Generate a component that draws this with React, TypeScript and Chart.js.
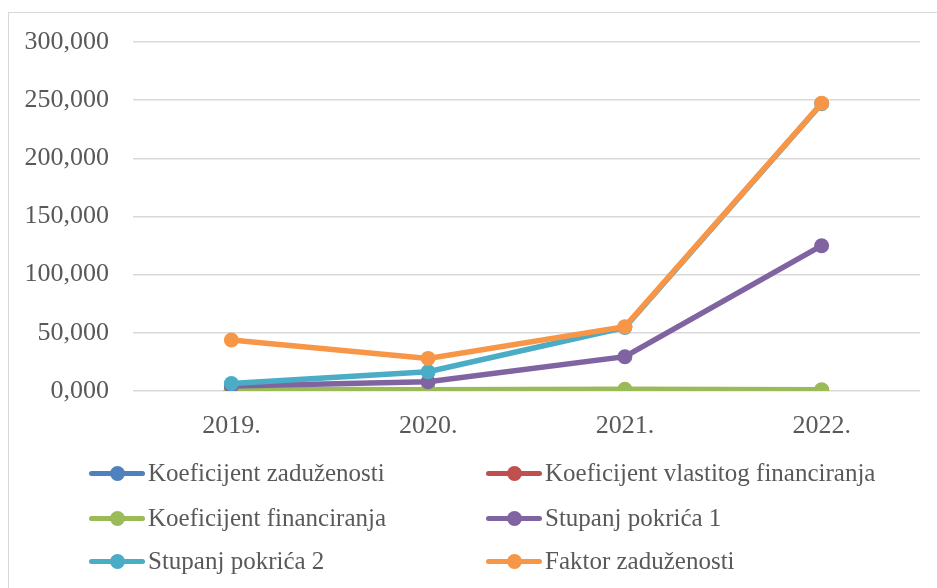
import React, { useEffect, useRef } from "react";
import { Chart, registerables } from "chart.js";

Chart.register(...registerables);

const categories = ["2019.", "2020.", "2021.", "2022."];
const seriesNames = [
  "Koeficijent zaduženosti",
  "Koeficijent vlastitog financiranja",
  "Koeficijent financiranja",
  "Stupanj pokrića 1",
  "Stupanj pokrića 2",
  "Faktor zaduženosti",
];
const koefZaduzenosti = [0.6, 0.5, 0.5, 0.5];
const koefVlastitog = [0.4, 0.3, 0.4, 0.4];
const koefFinanciranja = [1.5, 1.0, 1.4, 1.0];
const stupanjPokrica1 = [4.3, 8.0, 29.5, 124.9];
const stupanjPokrica2 = [6.5, 16.6, 54.6, 247.0];
const faktorZaduzenosti = [43.8, 28.0, 55.3, 247.3];
const seriesValues = [
  koefZaduzenosti,
  koefVlastitog,
  koefFinanciranja,
  stupanjPokrica1,
  stupanjPokrica2,
  faktorZaduzenosti,
];
const colors = ["#4F81BD", "#C0504D", "#9BBB59", "#8064A2", "#4BACC6", "#F79646"];
const yMin = 0;
const yMax = 300;
const yStep = 50;

const FONT = "'Liberation Serif', 'DejaVu Serif', serif";
const TEXT_COLOR = "#595959";

export default function App() {
  const ref = useRef<HTMLCanvasElement | null>(null);

  useEffect(() => {
    if (!ref.current) return;
    const chart = new Chart(ref.current, {
      type: "line",
      data: {
        labels: categories,
        datasets: seriesNames.map((name, i) => ({
          label: name,
          data: seriesValues[i],
          borderColor: colors[i],
          backgroundColor: colors[i],
          pointBackgroundColor: colors[i],
          pointBorderColor: colors[i],
          borderWidth: 5.5,
          pointRadius: 7.5,
          pointBorderWidth: 0,
          tension: 0,
          order: seriesNames.length - 1 - i,
        })),
      },
      options: {
        responsive: false,
        animation: false,
        layout: { padding: { top: 42, right: 17, bottom: 148, left: 0 } },
        plugins: { legend: { display: false }, tooltip: { enabled: false } },
        scales: {
          x: {
            offset: true,
            grid: { display: false },
            border: { display: false },
            ticks: {
              color: TEXT_COLOR,
              font: { family: FONT, size: 26 },
              padding: 12,
            },
            afterFit: (s: any) => {
              s.height = 49;
            },
          },
          y: {
            min: yMin,
            max: yMax,
            grid: { color: "#d9d9d9", lineWidth: 1.5, drawTicks: false },
            border: { display: false },
            ticks: {
              stepSize: yStep,
              color: TEXT_COLOR,
              font: { family: FONT, size: 26 },
              padding: 24,
              callback: (v: any) => Number(v).toFixed(3).replace(".", ","),
            },
            afterFit: (s: any) => {
              s.width = 133;
            },
          },
        },
      },
    });
    return () => chart.destroy();
  }, []);

  const legendRows = [
    [0, 1],
    [2, 3],
    [4, 5],
  ];
  const rowY = [473, 518, 561];
  const colX = [89, 486];

  return (
    <div
      style={{
        position: "fixed",
        left: 0,
        top: 0,
        width: 937,
        height: 588,
        background: "#fff",
        overflow: "hidden",
      }}
    >
      <div
        style={{
          position: "absolute",
          left: 8,
          top: 12,
          width: 960,
          height: 620,
          border: "1.5px solid #d9d9d9",
          boxSizing: "border-box",
        }}
      />
      <canvas
        ref={ref}
        width={937}
        height={588}
        style={{ position: "absolute", left: 0, top: 0, width: 937, height: 588 }}
      />
      {legendRows.map((row, r) =>
        row.map((idx, c) => (
          <div
            key={idx}
            style={{
              position: "absolute",
              left: colX[c],
              top: rowY[r] - 16,
              height: 32,
              display: "flex",
              alignItems: "center",
              fontFamily: FONT,
              fontSize: 25,
              color: TEXT_COLOR,
              whiteSpace: "nowrap",
            }}
          >
            <div style={{ position: "relative", width: 56, height: 15, marginRight: 3 }}>
              <div
                style={{
                  position: "absolute",
                  left: 0,
                  top: 5,
                  width: 56,
                  height: 5.5,
                  borderRadius: 2.5,
                  background: colors[idx],
                }}
              />
              <div
                style={{
                  position: "absolute",
                  left: 20.5,
                  top: 0,
                  width: 15,
                  height: 15,
                  borderRadius: 7.5,
                  background: colors[idx],
                }}
              />
            </div>
            <span>{seriesNames[idx]}</span>
          </div>
        ))
      )}
    </div>
  );
}
